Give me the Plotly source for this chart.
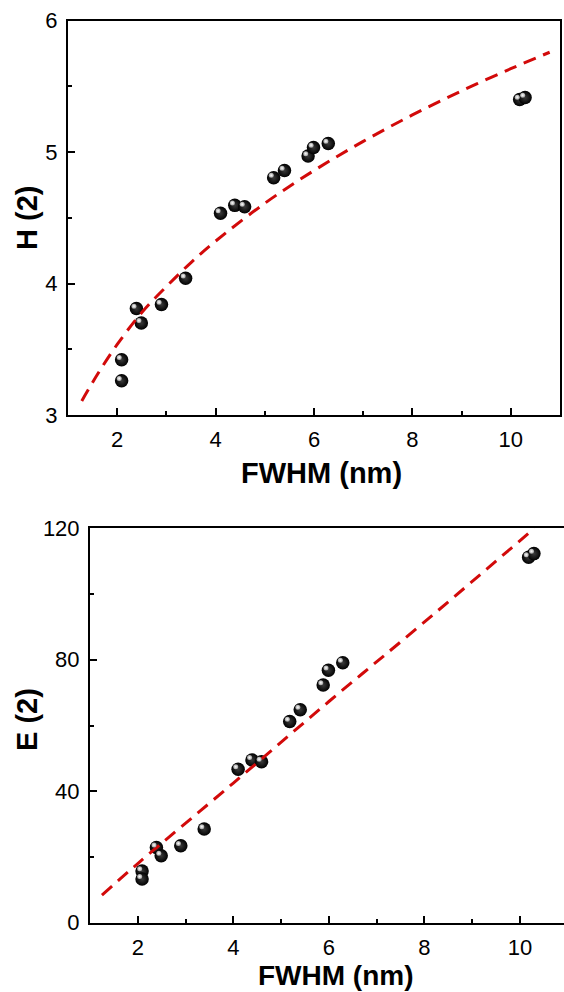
import plotly.graph_objects as go

# ---- data ----
fwhm = [2.09, 2.09, 2.39, 2.49, 2.90, 3.39, 4.10, 4.39, 4.59, 5.18, 5.40, 5.88, 5.99, 6.29, 10.18, 10.29]
h_vals = [3.42, 3.26, 3.81, 3.70, 3.84, 4.04, 4.535, 4.595, 4.585, 4.805, 4.86, 4.97, 5.035, 5.065, 5.40, 5.415]
e_vals = [15.7, 13.3, 22.9, 20.4, 23.4, 28.5, 46.7, 49.5, 49.0, 61.2, 64.8, 72.3, 76.8, 79.1, 111.2, 112.3]

# fitted (dashed) curves
fit_h_x = [1.28, 1.6, 2.0, 2.5, 3.0, 3.5, 4.0, 5.0, 6.0, 7.0, 8.0, 9.0, 10.0, 10.79]
fit_h_y = [3.107, 3.31, 3.537, 3.78, 3.977, 4.16, 4.323, 4.611, 4.860, 5.082, 5.283, 5.466, 5.635, 5.76]
fit_e_x = [1.25, 2.0, 4.0, 6.0, 8.0, 10.3]
fit_e_y = [8.4, 18.0, 42.5, 67.3, 91.5, 120.0]

x_title = "FWHM (nm)"
h_title = "H (2)"
e_title = "E (2)"

W, H = 564, 992
RED = "#d20a0a"
FONT = "Liberation Sans, Arial, sans-serif"

# plot-area geometry (pixels)
top_l, top_r, top_t, top_b = 68, 560, 20.7, 415
bot_l, bot_r, bot_t, bot_b = 90, 564, 528.3, 922.7
xr_top = [1, 11]
yr_top = [3, 6]
xr_bot = [1, 10.92]
yr_bot = [0, 120]

def px(v):
    return v / W

def py(v):
    return 1 - v / H

fig = go.Figure()

# highlight offsets (pixels up-left)
sx, sy = 2.4, 2.4
ppx_t = (top_r - top_l) / (xr_top[1] - xr_top[0])
ppy_t = (top_b - top_t) / (yr_top[1] - yr_top[0])
ppx_b = (bot_r - bot_l) / (xr_bot[1] - xr_bot[0])
ppy_b = (bot_b - bot_t) / (yr_bot[1] - yr_bot[0])

ball = dict(size=13.5, color="black", gradient=dict(type="radial", color="#3a3a3a"),
            line=dict(width=0))
shine = dict(size=5, color="#a0a0a0", gradient=dict(type="radial", color="white"),
             line=dict(width=0))

# top panel
fig.add_trace(go.Scatter(x=fwhm, y=h_vals, mode="markers", marker=ball,
                         xaxis="x", yaxis="y", showlegend=False))
fig.add_trace(go.Scatter(x=fwhm, y=h_vals, mode="markers", marker=shine,
                         xaxis="x3", yaxis="y3", showlegend=False))
fig.add_trace(go.Scatter(x=fit_h_x, y=fit_h_y, mode="lines", line_shape="spline",
                         line=dict(color=RED, width=3, dash="13px,8px"),
                         xaxis="x", yaxis="y", showlegend=False))
# bottom panel
fig.add_trace(go.Scatter(x=fwhm, y=e_vals, mode="markers", marker=ball,
                         xaxis="x2", yaxis="y2", showlegend=False))
fig.add_trace(go.Scatter(x=fwhm, y=e_vals, mode="markers", marker=shine,
                         xaxis="x4", yaxis="y4", showlegend=False))
fig.add_trace(go.Scatter(x=fit_e_x, y=fit_e_y, mode="lines", line_shape="spline",
                         line=dict(color=RED, width=3, dash="13px,8px"),
                         xaxis="x2", yaxis="y2", showlegend=False))

tickfont = dict(family=FONT, size=22, color="black")
common = dict(showline=True, linewidth=2, linecolor="black", showgrid=False,
              zeroline=False, ticks="inside", ticklen=7, tickwidth=2, tickcolor="black",
              tickfont=tickfont, ticklabelstandoff=4, automargin=False)
hidden = dict(visible=False, automargin=False)

fig.update_layout(
    width=W, height=H, margin=dict(l=0, r=0, t=0, b=0, autoexpand=False),
    paper_bgcolor="white", plot_bgcolor="white", showlegend=False,
    xaxis=dict(domain=[px(top_l), px(top_r)], range=xr_top, anchor="y", mirror=True,
               tick0=2, dtick=2, minor=dict(ticks="inside", ticklen=4, tickwidth=2,
                                            tickcolor="black", dtick=1, tick0=1), **common),
    yaxis=dict(domain=[py(top_b), py(top_t)], range=yr_top, anchor="x", mirror=True,
               tick0=3, dtick=1, minor=dict(ticks="inside", ticklen=4, tickwidth=2,
                                            tickcolor="black", dtick=0.5), **common),
    xaxis2=dict(domain=[px(bot_l), px(bot_r)], range=xr_bot, anchor="y2", mirror=True,
                tick0=2, dtick=2, minor=dict(ticks="inside", ticklen=4, tickwidth=2,
                                             tickcolor="black", dtick=1, tick0=1), **common),
    yaxis2=dict(domain=[py(bot_b), py(bot_t)], range=yr_bot, anchor="x2", mirror=False,
                tick0=0, dtick=40, minor=dict(ticks="inside", ticklen=4, tickwidth=2,
                                              tickcolor="black", dtick=20), **common),
    xaxis3=dict(domain=[px(top_l), px(top_r)], overlaying="x", anchor="y3",
                range=[xr_top[0] + sx / ppx_t, xr_top[1] + sx / ppx_t], **hidden),
    yaxis3=dict(domain=[py(top_b), py(top_t)], overlaying="y", anchor="x3",
                range=[yr_top[0] - sy / ppy_t, yr_top[1] - sy / ppy_t], **hidden),
    xaxis4=dict(domain=[px(bot_l), px(bot_r)], overlaying="x2", anchor="y4",
                range=[xr_bot[0] + sx / ppx_b, xr_bot[1] + sx / ppx_b], **hidden),
    yaxis4=dict(domain=[py(bot_b), py(bot_t)], overlaying="y2", anchor="x4",
                range=[yr_bot[0] - sy / ppy_b, yr_bot[1] - sy / ppy_b], **hidden),
)

title_font = dict(family=FONT, size=29, color="black", weight="bold")
bottom_title_font = dict(family=FONT, size=28, color="black", weight="bold")
annots = [
    dict(text=x_title, x=px(321), y=py(473), xanchor="center", yanchor="middle", font=title_font),
    dict(text=h_title, x=px(27), y=py(218), xanchor="center", yanchor="middle", textangle=-90,
         font=title_font),
    dict(text=x_title, x=px(336), y=0, xanchor="center", yanchor="bottom", borderpad=0,
         font=bottom_title_font),
    dict(text=e_title, x=px(27), y=py(720), xanchor="center", yanchor="middle", textangle=-90,
         font=title_font),
]
for a in annots:
    fig.add_annotation(xref="paper", yref="paper", showarrow=False, **a)

fig.write_html("out.html", config={"displayModeBar": False},
               post_script="document.body.style.margin='0';document.body.style.overflow='hidden';")
